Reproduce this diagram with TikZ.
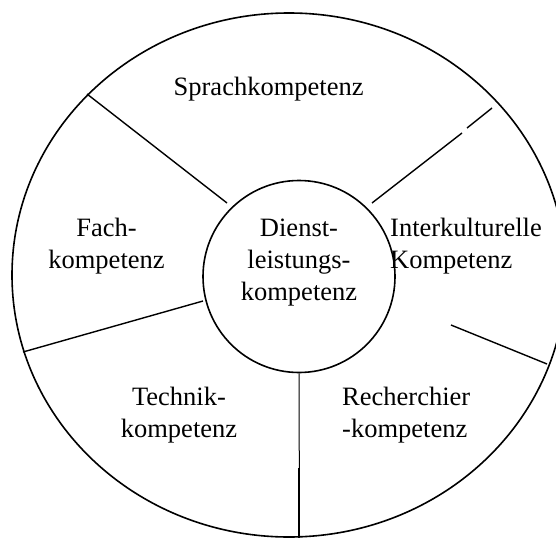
\documentclass[tikz,border=0pt]{standalone}
\usepackage{fontspec}
\setmainfont{Liberation Serif}

\begin{document}
\begin{tikzpicture}[%
    x=1pt, y=-1pt,              % work in pixels of the original, y down
    every node/.style={inner sep=0pt},
    ring/.style={line width=1.6pt},
    spoke/.style={line width=1.4pt},
    lbl/.style={font=\fontsize{26.5}{32}\selectfont, align=center},
    lbll/.style={lbl, align=left},
    ]
\useasboundingbox (0,0) rectangle (556,538);
% -------------------------------------------------
% Outer ring and the core
\draw[ring] (289,275) ellipse [x radius=277pt, y radius=262pt];
\node[ring, draw, circle, minimum size=192pt] (dl) at (299,276.5) {};
% base anchor sits on the last line of a block
\node[lbl, anchor=base] (dltxt) at (299,300) {Dienst-\\leistungs-\\kompetenz};

% -------------------------------------------------
% The segments
\node[lbl, anchor=base] (spr) at (268.6,95) {Sprachkompetenz};
\node[lbl, anchor=base] (fach) at (106.5,268) {Fach-\\kompetenz};
\node[lbll, anchor=base west] (inter) at (390,268) {Interkulturelle\\Kompetenz};
\node[lbl, anchor=base] (tech) at (179,437) {Technik-\\kompetenz};
\node[lbll, anchor=base west] (rech) at (342,437) {Recherchier\\-kompetenz};

% -------------------------------------------------
% Spokes between the segments
\coordinate (ul-o) at (87,94);   \coordinate (ul-i) at (227,203);
\coordinate (ur-o) at (492,108); \coordinate (ur-a) at (467,128);
\coordinate (ur-b) at (462,133); \coordinate (ur-i) at (372,203);
\coordinate (ll-o) at (23,352);  \coordinate (ll-i) at (203,301);
\coordinate (lr-i) at (451,325); \coordinate (lr-o) at (547,364);
\coordinate (bt-m) at (299.3,468); \coordinate (bt-o) at (299.3,538);

\draw[spoke] (ul-o) -- (ul-i);
\draw[spoke] (ur-o) -- (ur-a);
\draw[spoke] (ur-b) -- (ur-i);
\draw[spoke] (ll-o) -- (ll-i);
\draw[spoke] (lr-i) -- (lr-o);
\draw[line width=1pt] (dl.south) -- (bt-m);
\draw[line width=1.8pt] (bt-m) -- (bt-o);
% -------------------------------------------------
\end{tikzpicture}
\end{document}
